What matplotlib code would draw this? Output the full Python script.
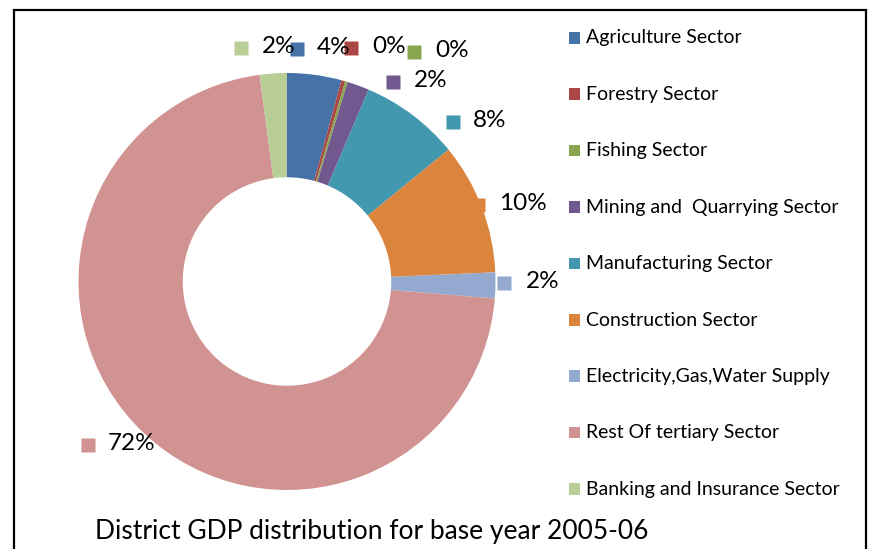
import matplotlib
matplotlib.use("Agg")
import matplotlib.pyplot as plt
from matplotlib.patches import Rectangle

plt.rcParams['font.family'] = ['Lato', 'DejaVu Sans']

sectors = ["Agriculture Sector", "Forestry Sector", "Fishing Sector",
           "Mining and  Quarrying Sector", "Manufacturing Sector",
           "Construction Sector", "Electricity,Gas,Water Supply",
           "Rest Of tertiary Sector", "Banking and Insurance Sector"]
share = [4.2, 0.3, 0.2, 1.7, 7.7, 10.2, 2.0, 71.6, 2.1]
colors = ["#4572A7", "#AA4643", "#89A54E", "#71588F", "#4198AF",
          "#DB843D", "#93A9D0", "#D19392", "#B9CD96"]
title = "District GDP distribution for base year 2005-06"

W, H = 870, 549
cx, cy, R = 287, 281.5, 208.5

# where each data label sits (pixels): marker centre, text left edge
lab_marker = [(297.5, 48.5), (351, 48), (414, 51.5), (393.5, 81.5),
              (453, 121.5), (478, 205), (504.5, 282.5), (88.5, 444.5),
              (241.5, 48)]
lab_text_x = [317, 372, 435, 414, 473, 499, 526, 108, 262]

fig = plt.figure(figsize=(W / 100, H / 100), dpi=100)
ax = fig.add_axes([(cx - R) / W, (H - cy - R) / H, 2 * R / W, 2 * R / H])
ax.set_facecolor("none")

ax.pie(share, colors=colors, startangle=90, counterclock=False, radius=1,
       wedgeprops=dict(width=0.5, linewidth=0))
ax.set_xlim(-1, 1)
ax.set_ylim(-1, 1)
ax.set_aspect("equal")
ax.axis("off")

def to_data(px, py):
    return (px - cx) / R, (cy - py) / R

for i in range(len(share)):
    mx, my = to_data(*lab_marker[i])
    tx, _ = to_data(lab_text_x[i], 0)
    ax.plot(mx, my, "s", ms=10.2, color=colors[i], mec="none",
            clip_on=False, zorder=0.5)
    ax.text(tx, my + 0.005, "%d%%" % round(share[i]), fontsize=17.5,
            color="black", va="center", ha="left", clip_on=False)

# legend drawn row by row
row0, step = 38, 56.4
for i, name in enumerate(sectors):
    y = row0 + i * step
    fig.add_artist(Rectangle((569 / W, 1 - (y + 5.5) / H), 11.5 / W, 11.5 / H,
                             transform=fig.transFigure, color=colors[i], lw=0))
    fig.text(586 / W, 1 - y / H, name, fontsize=14, va="center", ha="left")

fig.text(95 / W, 1 - 531 / H, title, fontsize=19, va="center", ha="left")

# chart border
fig.add_artist(Rectangle((14.5 / W, -0.1), (866.5 - 14.5) / W, 1.1 - 10.5 / H,
                         transform=fig.transFigure, fill=False,
                         edgecolor="black", lw=1.6))

fig.savefig("out.png", dpi=100)
